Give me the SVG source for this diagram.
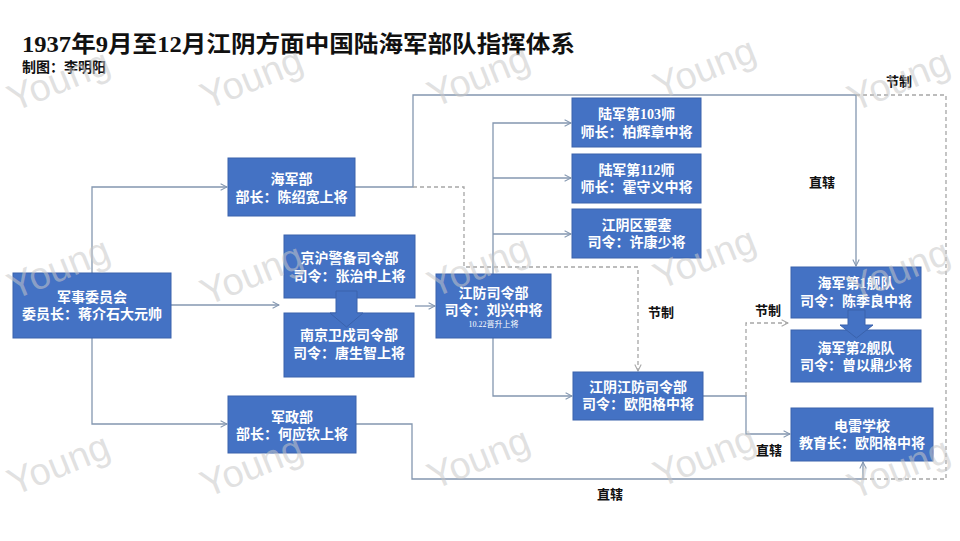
<svg xmlns="http://www.w3.org/2000/svg" width="960" height="541" viewBox="0 0 960 541">
<defs>
<marker id="arr" viewBox="0 0 10 10" refX="9" refY="5" markerWidth="8" markerHeight="8" markerUnits="userSpaceOnUse" orient="auto">
<path d="M1,1 L9,5 L1,9" fill="none" stroke="#8497B0" stroke-width="1.3"/>
</marker>
<marker id="arrd" viewBox="0 0 10 10" refX="9" refY="5" markerWidth="8" markerHeight="8" markerUnits="userSpaceOnUse" orient="auto">
<path d="M1,1 L9,5 L1,9" fill="none" stroke="#A6A6A6" stroke-width="1.3"/>
</marker>
</defs>
<style>
.box{fill:#4472C4;stroke:#3A62AC;stroke-width:1}
.t{font-family:"Liberation Serif","Noto Sans CJK SC",serif;font-weight:bold;font-size:14px;fill:#ffffff;text-anchor:middle;dominant-baseline:central}
.s{font-family:"Liberation Serif","Noto Sans CJK SC",serif;font-size:8px;fill:#ffffff;text-anchor:middle;dominant-baseline:central}
.ln{fill:none;stroke:#8497B0;stroke-width:1.3}
.dl{fill:none;stroke:#A6A6A6;stroke-width:1.3;stroke-dasharray:4 3}
.lb{font-family:"Liberation Serif","Noto Sans CJK SC",serif;font-weight:bold;font-size:13px;fill:#111111;text-anchor:middle;dominant-baseline:central}
.wm{font-family:"Liberation Sans",Arial,sans-serif;font-size:38px;fill:#c8c8c8;fill-opacity:0.55}
.big{fill:#4472C4;stroke:#3A62AC;stroke-width:1}
</style>
<rect width="960" height="541" fill="#ffffff"/>
<text x="22" y="52" font-family="'Liberation Serif','Noto Sans CJK SC',serif" font-weight="bold" font-size="23" fill="#111" textLength="553" lengthAdjust="spacingAndGlyphs">1937年9月至12月江阴方面中国陆海军部队指挥体系</text>
<text x="22" y="72" font-family="'Liberation Serif','Noto Sans CJK SC',serif" font-weight="bold" font-size="14" fill="#111">制图：李明阳</text>

<g id="connectors">
<path class="ln" d="M92,273 V187 H227" marker-end="url(#arr)"/>
<path class="ln" d="M92,338 V424 H227" marker-end="url(#arr)"/>
<path class="ln" d="M171,305 H279" marker-end="url(#arr)"/>
<path class="ln" d="M415,306 H435" marker-end="url(#arr)"/>
<path class="ln" d="M355,187 H413 V95 H856 V266" marker-end="url(#arr)"/>
<path class="dl" d="M413,187 H464 V267 H638 V371" marker-end="url(#arrd)"/>
<path class="dl" d="M856,95 H946 V479 H863"/>
<path class="ln" d="M356,424 H412 V479 H863 V462" marker-end="url(#arr)"/>
<path class="ln" d="M493,274 V123 H571" marker-end="url(#arr)"/>
<path class="ln" d="M493,178 H571" marker-end="url(#arr)"/>
<path class="ln" d="M493,234 H571" marker-end="url(#arr)"/>
<path class="ln" d="M493,338 V396 H572" marker-end="url(#arr)"/>
<path class="ln" d="M703,396 H746 V434 H790" marker-end="url(#arr)"/>
<path class="dl" d="M746,396 V323 H788" marker-end="url(#arrd)"/>
<text class="lb" x="899" y="81">节制</text>
<text class="lb" x="822" y="182">直辖</text>
<text class="lb" x="661" y="312">节制</text>
<text class="lb" x="768" y="310">节制</text>
<text class="lb" x="769" y="450">直辖</text>
<text class="lb" x="610" y="494">直辖</text>
</g>

<g id="n-junshi">
<rect class="box" x="13" y="273" width="158" height="65"/>
<text class="t" x="92" y="297">军事委员会</text>
<text class="t" x="92" y="314">委员长：蒋介石大元帅</text>
</g>
<g id="n-haijunbu">
<rect class="box" x="228" y="158" width="127" height="58"/>
<text class="t" x="291.5" y="179">海军部</text>
<text class="t" x="291.5" y="197">部长：陈绍宽上将</text>
</g>
<g id="n-jinghu">
<rect class="box" x="284" y="235" width="131" height="63"/>
<text class="t" x="349.5" y="258">京沪警备司令部</text>
<text class="t" x="349.5" y="276">司令：张治中上将</text>
</g>
<g id="n-nanjing">
<rect class="box" x="284" y="313" width="130" height="64"/>
<text class="t" x="349" y="335">南京卫戍司令部</text>
<text class="t" x="349" y="353">司令：唐生智上将</text>
</g>
<g id="a-big1">
<path class="big" d="M336,291 H357 V313 H363 L346.5,327 L330,313 H336 Z"/>
</g>
<g id="n-junzheng">
<rect class="box" x="228" y="396" width="128" height="57"/>
<text class="t" x="292" y="417">军政部</text>
<text class="t" x="292" y="434">部长：何应钦上将</text>
</g>
<g id="n-jiangfang">
<rect class="box" x="436" y="274" width="115" height="64"/>
<text class="t" x="493.5" y="293">江防司令部</text>
<text class="t" x="493.5" y="310">司令：刘兴中将</text>
<text class="s" x="493.5" y="324">10.22晋升上将</text>
</g>
<g id="n-103">
<rect class="box" x="572" y="98" width="129" height="49"/>
<text class="t" x="636.5" y="114">陆军第103师</text>
<text class="t" x="636.5" y="132">师长：柏辉章中将</text>
</g>
<g id="n-112">
<rect class="box" x="572" y="154" width="129" height="49"/>
<text class="t" x="636.5" y="170">陆军第112师</text>
<text class="t" x="636.5" y="187">师长：霍守义中将</text>
</g>
<g id="n-yaosai">
<rect class="box" x="572" y="209" width="129" height="49"/>
<text class="t" x="636.5" y="225">江阴区要塞</text>
<text class="t" x="636.5" y="242">司令：许康少将</text>
</g>
<g id="n-jyjf">
<rect class="box" x="573" y="372" width="130" height="48"/>
<text class="t" x="638" y="387">江阴江防司令部</text>
<text class="t" x="638" y="404">司令：欧阳格中将</text>
</g>
<g id="n-jd1">
<rect class="box" x="791" y="267" width="130" height="51"/>
<text class="t" x="856" y="283">海军第1舰队</text>
<text class="t" x="856" y="301">司令：陈季良中将</text>
</g>
<g id="n-jd2">
<rect class="box" x="791" y="330" width="130" height="52"/>
<text class="t" x="856" y="348">海军第2舰队</text>
<text class="t" x="856" y="365">司令：曾以鼎少将</text>
</g>
<g id="a-big2">
<path class="big" d="M848,310 H865 V325 H873 L856.5,338 L840,325 H848 Z"/>
</g>
<g id="n-dianlei">
<rect class="box" x="791" y="408" width="142" height="53"/>
<text class="t" x="862" y="426">电雷学校</text>
<text class="t" x="862" y="443">教育长：欧阳格中将</text>
</g>

<g id="watermarks">
<text class="wm" transform="translate(14,112) rotate(-22)">Young</text>
<text class="wm" transform="translate(207,110) rotate(-22)">Young</text>
<text class="wm" transform="translate(434,108) rotate(-22)">Young</text>
<text class="wm" transform="translate(660,100) rotate(-22)">Young</text>
<text class="wm" transform="translate(854,112) rotate(-22)">Young</text>
<text class="wm" transform="translate(14,300) rotate(-22)">Young</text>
<text class="wm" transform="translate(207,306) rotate(-22)">Young</text>
<text class="wm" transform="translate(434,298) rotate(-22)">Young</text>
<text class="wm" transform="translate(660,290) rotate(-22)">Young</text>
<text class="wm" transform="translate(854,302) rotate(-22)">Young</text>
<text class="wm" transform="translate(14,496) rotate(-22)">Young</text>
<text class="wm" transform="translate(207,498) rotate(-22)">Young</text>
<text class="wm" transform="translate(434,490) rotate(-22)">Young</text>
<text class="wm" transform="translate(660,488) rotate(-22)">Young</text>
<text class="wm" transform="translate(854,500) rotate(-22)">Young</text>
</g>
</svg>
